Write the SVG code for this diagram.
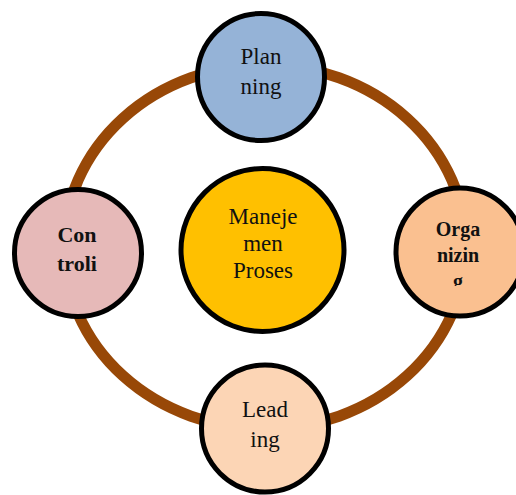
<svg xmlns="http://www.w3.org/2000/svg" width="516" height="495" viewBox="0 0 516 495">
<style>
.node{stroke:#000;stroke-width:5}
.t{font-family:"Liberation Serif","Times New Roman",serif;font-size:23px;fill:#111;text-anchor:middle}
.b{font-weight:bold;font-size:22px}
.ring{fill:none;stroke:#984807;stroke-width:11}
</style>
<defs>
<clipPath id="orgClip"><rect x="380" y="180" width="140" height="106"/></clipPath>
</defs>
<rect width="516" height="495" fill="#fff"/>
<g id="connectors">
<ellipse class="ring" cx="265" cy="247" rx="201" ry="182"/>
</g>
<g id="center">
<circle class="node" cx="262.5" cy="250" r="81.5" fill="#FFC000"/>
<text class="t" x="263" y="224">Maneje</text>
<text class="t" x="263" y="251">men</text>
<text class="t" x="263" y="278">Proses</text>
</g>
<g id="planning">
<circle class="node" cx="261" cy="77" r="63.5" fill="#95B3D7"/>
<text class="t" x="261" y="64">Plan</text>
<text class="t" x="261" y="94">ning</text>
</g>
<g id="controli">
<circle class="node" cx="78" cy="253" r="63.5" fill="#E6B9B8"/>
<text class="t b" x="77" y="242">Con</text>
<text class="t b" x="77" y="271">troli</text>
</g>
<g id="organizing">
<circle class="node" cx="460" cy="252" r="64" fill="#FAC090"/>
<g clip-path="url(#orgClip)">
<text class="t b" x="458" y="236" style="font-size:20px">Orga</text>
<text class="t b" x="458" y="262" style="font-size:20px">nizin</text>
<text class="t b" x="458" y="288" style="font-size:20px">g</text>
</g>
</g>
<g id="leading">
<circle class="node" cx="265" cy="428.5" r="63.5" fill="#FCD5B5"/>
<text class="t" x="265" y="417">Lead</text>
<text class="t" x="265" y="447">ing</text>
</g>
</svg>
